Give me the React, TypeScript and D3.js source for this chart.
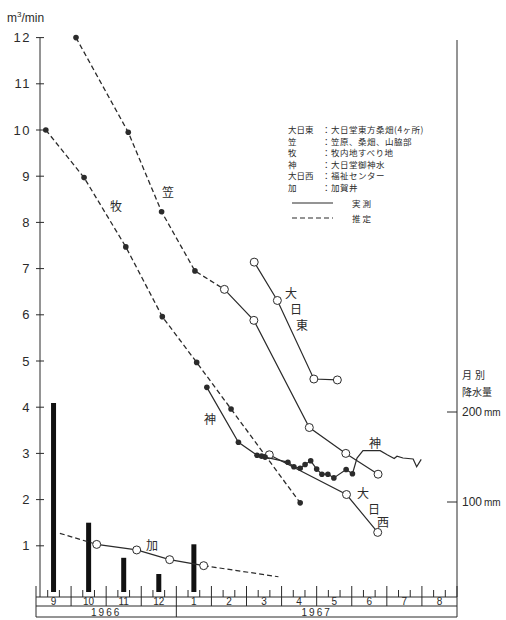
import React from 'react';
import * as d3 from 'd3';

// x values are months counted from 1 Sep 1966
const monthLabels = ['9', '10', '11', '12', '1', '2', '3', '4', '5', '6', '7', '8'];
const yearLabels = ['1966', '1967'];
const yearSpans = [[0, 4], [4, 12]];
const flowTicks = [1, 2, 3, 4, 5, 6, 7, 8, 9, 10, 11, 12];
const rainTicks = [100, 200];

// monthly precipitation (mm)
const rainMonths = [0.5, 1.5, 2.5, 3.5, 4.5];
const rainValues = [210, 77, 38, 20, 53];

// 牧 (estimated)
const makiEst = [[0.28, 10.0], [1.37, 8.97], [2.56, 7.47], [3.6, 5.96], [4.58, 4.97], [5.56, 3.96], [7.53, 1.93]];
// 笠
const kasaEst = [[1.14, 12.0], [2.63, 9.95], [3.58, 8.23], [4.53, 6.95]];
const kasaMeas = [[5.37, 6.55], [6.21, 5.88], [7.79, 3.56], [8.83, 3.0], [9.75, 2.55]];
// 大日東
const eastMeas = [[6.22, 7.14], [6.88, 6.31], [7.92, 4.61], [8.59, 4.59]];
// 神
const kamiPoints = [[4.87, 4.43], [5.77, 3.24], [6.3, 2.96], [6.43, 2.94], [6.53, 2.92], [7.18, 2.81], [7.35, 2.71],
  [7.53, 2.68], [7.67, 2.76], [7.83, 2.84], [8.0, 2.66], [8.15, 2.55], [8.32, 2.55], [8.49, 2.47], [8.84, 2.65], [9.02, 2.56]];
const kamiRecord = [[9.02, 2.56], [9.15, 2.9], [9.32, 3.06], [9.81, 3.06], [10.01, 2.97], [10.21, 2.89], [10.29, 2.94],
  [10.46, 2.9], [10.75, 2.88], [10.85, 2.71], [10.98, 2.87]];
// 大日西
const westMeas = [[6.65, 2.97], [8.85, 2.11], [9.74, 1.29]];
// 加
const kagaMeas = [[1.73, 1.03], [2.87, 0.91], [3.81, 0.7], [4.78, 0.57]];
const kagaEstStart = [0.68, 1.27];
const kagaEstEnd = [6.91, 0.33];

const legendRows = [
  ['大日東', '大日堂東方桑畑(4ヶ所)'],
  ['笠', '笠原、桑畑、山脇部'],
  ['牧', '牧内地すべり地'],
  ['神', '大日堂御神水'],
  ['大日西', '福祉センター'],
  ['加', '加賀井'],
];

const ink = '#2b2b2b';
const jp = '"Noto Sans CJK JP", sans-serif';
const num = '"Liberation Sans", Arial, sans-serif';

const App = () => {
  const x = d3.scaleLinear().domain([0, 12]).range([36, 457]);
  const y = d3.scaleLinear().domain([0, 12]).range([592, 37.6]);
  const yRain = d3.scaleLinear().domain([0, 200]).range([592, 412]);
  const line = d3.line<number[]>().x(d => x(d[0])).y(d => y(d[1]));

  const axisX = 40;
  const rightX = 457;
  const bandTop = 597, bandMid = 606, bandBot = 617;

  const dash = '5,3';
  const dot = (d: number[], i: number) => <circle key={i} cx={x(d[0])} cy={y(d[1])} r={2.8} fill={ink} />;
  const ring = (d: number[], i: number) => <circle key={i} cx={x(d[0])} cy={y(d[1])} r={4} fill="#fff" stroke={ink} strokeWidth={1} />;

  const minorTicks = d3.range(0, 12.01, 1 / 3);

  const label = (t: string, cx: number, cy: number, k: string) => (
    <text key={k} x={cx} y={cy} textAnchor="middle" dominantBaseline="central" fontFamily={jp} fontSize={12} fill={ink}>{t}</text>
  );

  return (
    <svg width={506} height={620} style={{ position: 'absolute', left: 0, top: 0 }}>
      <rect width={506} height={620} fill="#fff" />

      {/* left axis */}
      <line x1={axisX} x2={axisX} y1={y(12)} y2={bandTop} stroke={ink} strokeWidth={1} />
      {flowTicks.map(t => (
        <g key={t}>
          <line x1={axisX - 4} x2={axisX + 4} y1={y(t)} y2={y(t)} stroke={ink} strokeWidth={1} />
          <text x={31} y={y(t)} textAnchor="end" dominantBaseline="central" fontFamily={num} fontSize={13} letterSpacing={1.5} fill={ink}>{t}</text>
        </g>
      ))}
      <text x={7} y={22} fontFamily={num} fontSize={12} fill={ink}>
        m<tspan dy={-5} fontSize={8}>3</tspan><tspan dy={5}>/min</tspan>
      </text>

      {/* right axis */}
      <line x1={rightX} x2={rightX} y1={40} y2={bandTop} stroke={ink} strokeWidth={1} />
      {rainTicks.map(t => (
        <g key={t}>
          <line x1={rightX - 10} x2={rightX} y1={yRain(t)} y2={yRain(t)} stroke={ink} strokeWidth={1} />
          <text x={462} y={yRain(t)} dominantBaseline="central" fontFamily={num} fontSize={12} fill={ink}>{t}<tspan fontSize={10} dx={2}>mm</tspan></text>
        </g>
      ))}
      <text x={462} y={374} dominantBaseline="central" fontFamily={jp} fontSize={10} letterSpacing={3} fill={ink}>月別</text>
      <text x={462} y={391} dominantBaseline="central" fontFamily={jp} fontSize={10} fill={ink}>降水量</text>

      {/* precipitation bars */}
      {rainMonths.map((m, i) => (
        <rect key={i} x={x(m) - 2.5} width={5} y={yRain(rainValues[i])} height={592 - yRain(rainValues[i])} fill="#111" />
      ))}

      {/* time ticks and band */}
      {minorTicks.map((m, i) => (
        <line key={i} x1={x(m)} x2={x(m)} y1={i % 3 === 0 ? 586 : 590} y2={bandTop} stroke={ink} strokeWidth={1} />
      ))}
      <line x1={x(0)} x2={x(12)} y1={bandTop} y2={bandTop} stroke={ink} />
      <line x1={x(0)} x2={x(12)} y1={bandMid} y2={bandMid} stroke={ink} />
      <line x1={x(0)} x2={x(12)} y1={bandBot} y2={bandBot} stroke={ink} />
      {d3.range(0, 13).map(m => (
        <line key={m} x1={x(m)} x2={x(m)} y1={bandTop} y2={m === 0 || m === 4 || m === 12 ? bandBot : bandMid} stroke={ink} />
      ))}
      {monthLabels.map((t, i) => (
        <text key={i} x={x(i + 0.5)} y={bandMid - 4.5} textAnchor="middle" dominantBaseline="central" fontFamily={num} fontSize={10} fill={ink}>{t}</text>
      ))}
      {yearLabels.map((t, i) => (
        <text key={t} x={(x(yearSpans[i][0]) + x(yearSpans[i][1])) / 2} y={bandBot - 5} textAnchor="middle" dominantBaseline="central" fontFamily={num} fontSize={10} letterSpacing={2} fill={ink}>{t}</text>
      ))}

      {/* series */}
      <path d={line(makiEst) || ''} fill="none" stroke={ink} strokeWidth={1.3} strokeDasharray={dash} />
      {makiEst.map(dot)}

      <path d={line([...kasaEst, kasaMeas[0]]) || ''} fill="none" stroke={ink} strokeWidth={1.3} strokeDasharray={dash} />
      <path d={line(kasaMeas) || ''} fill="none" stroke={ink} strokeWidth={1.2} />
      {kasaEst.map(dot)}
      {kasaMeas.map(ring)}

      <path d={line(eastMeas) || ''} fill="none" stroke={ink} strokeWidth={1.2} />
      {eastMeas.map(ring)}

      <path d={line(westMeas) || ''} fill="none" stroke={ink} strokeWidth={1.2} />
      {westMeas.map(ring)}

      <path d={line(kamiPoints) || ''} fill="none" stroke={ink} strokeWidth={1.2} />
      <path d={line(kamiRecord) || ''} fill="none" stroke={ink} strokeWidth={1.2} />
      {kamiPoints.map(dot)}

      <path d={line([kagaEstStart, kagaMeas[0]]) || ''} fill="none" stroke={ink} strokeWidth={1.2} strokeDasharray={dash} />
      <path d={line([kagaMeas[kagaMeas.length - 1], kagaEstEnd]) || ''} fill="none" stroke={ink} strokeWidth={1.2} strokeDasharray={dash} />
      <path d={line(kagaMeas) || ''} fill="none" stroke={ink} strokeWidth={1.2} />
      {kagaMeas.map(ring)}

      {/* series labels */}
      {label('牧', 116, 205, 'maki')}
      {label('笠', 168, 191, 'kasa')}
      {label('大', 291, 292, 'e1')}
      {label('日', 296, 308, 'e2')}
      {label('東', 302, 324, 'e3')}
      {label('神', 210, 418, 'k1')}
      {label('神', 375, 442, 'k2')}
      {label('大', 363, 492, 'w1')}
      {label('日', 374, 508, 'w2')}
      {label('西', 383, 521, 'w3')}
      {label('加', 152, 544, 'kaga')}

      {/* legend */}
      {legendRows.map((r, i) => (
        <g key={i} fontFamily={jp} fontSize={8.5} fill={ink}>
          <text x={288} y={129 + i * 11.5} dominantBaseline="central">{r[0]}</text>
          <text x={322} y={129 + i * 11.5} dominantBaseline="central" letterSpacing={0.5}>：{r[1]}</text>
        </g>
      ))}
      <line x1={292} x2={333} y1={203} y2={203} stroke={ink} strokeWidth={1.2} />
      <text x={352} y={203} dominantBaseline="central" fontFamily={jp} fontSize={8.5} letterSpacing={2} fill={ink}>実測</text>
      <line x1={292} x2={333} y1={218} y2={218} stroke={ink} strokeWidth={1.2} strokeDasharray={dash} />
      <text x={352} y={218} dominantBaseline="central" fontFamily={jp} fontSize={8.5} letterSpacing={2} fill={ink}>推定</text>
    </svg>
  );
};

export default App;
